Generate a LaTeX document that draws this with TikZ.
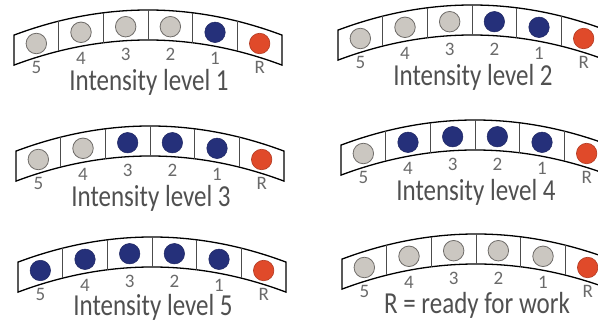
\documentclass[tikz,border=0pt]{standalone}
\usepackage{fontspec}
\setmainfont{Carlito}
\definecolor{dotgray}{HTML}{CBC7C1}
\definecolor{dotgrayedge}{HTML}{6E6B68}
\definecolor{dotblue}{HTML}{25307A}
\definecolor{dotred}{HTML}{E04A2A}
\definecolor{dotrededge}{HTML}{B23A22}
\definecolor{labelgray}{HTML}{6A6A6A}
\definecolor{titlegray}{HTML}{505050}
\tikzset{
  band/.style={draw=black, line width=1.3pt, fill=white},
  divider/.style={draw=black!70, line width=0.7pt},
  dot/.style={circle, inner sep=0pt, minimum size=20.5pt},
  gdot/.style={fill=dotgray, draw=dotgrayedge, line width=0.8pt},
  bdot/.style={fill=dotblue, draw=dotblue!80!black, line width=0.5pt},
  rdot/.style={fill=dotred, draw=dotrededge, line width=0.6pt},
  numlabel/.style={text=labelgray, font=\fontsize{19}{21}\selectfont, inner sep=0pt},
  paneltitle/.style={text=titlegray, font=\fontsize{25}{30}\selectfont, inner sep=0pt, anchor=base}
}
\newcommand\drawpanel[6]{%
  \begin{scope}[shift={(#2,-#3)}]
    \draw[band] (-134,-25.1) .. controls (-44.67,8.37) and (44.67,8.37) .. (134,-25.1)
      -- (134,-55.1) .. controls (44.67,-21.63) and (-44.67,-21.63) .. (-134,-55.1) -- cycle;
    \foreach \u in {-89.33,-44.67,0,44.67,89.33}
      \draw[divider] (\u,{-0.0014*\u*\u}) -- (\u,{-0.0014*\u*\u-30});
    \foreach \c [count=\i] in {#4} {
      \pgfmathsetmacro\uu{-134+44.67*(\i-0.5)}
      \node[dot,\c] (#1c\i) at (\uu,{-0.0014*\uu*\uu-16}) {};
    }
    \foreach \t [count=\i] in {5,4,3,2,1,R} {
      \pgfmathsetmacro\uu{-134+44.67*(\i-0.5)}
      \node[numlabel] (#1l\i) at (\uu,{-44-0.00105*\uu*\uu}) {\t};
    }
    \node[paneltitle] (#1t) at (1,-#6) {\scalebox{1}[1.22]{#5}};
  \end{scope}%
}
\begin{document}
\begin{tikzpicture}[x=1pt,y=1pt]
  \useasboundingbox (0,0) rectangle (598,-323);
  \fill[white] (0,0) rectangle (598,-323);
  \clip (0,0) rectangle (598,-323);
  \drawpanel{pa}{148}{10}{gdot,gdot,gdot,gdot,bdot,rdot}{Intensity level 1}{81}
  \drawpanel{pb}{472}{5}{gdot,gdot,gdot,bdot,bdot,rdot}{Intensity level 2}{81}
  \drawpanel{pc}{150}{126}{gdot,gdot,bdot,bdot,bdot,rdot}{Intensity level 3}{81}
  \drawpanel{pd}{475}{120}{gdot,bdot,bdot,bdot,bdot,rdot}{Intensity level 4}{81}
  \drawpanel{pe}{152}{237}{bdot,bdot,bdot,bdot,bdot,rdot}{Intensity level 5}{78.5}
  \drawpanel{pf}{476}{234}{gdot,gdot,gdot,gdot,gdot,rdot}{R = ready for work}{80}
\end{tikzpicture}
\end{document}
